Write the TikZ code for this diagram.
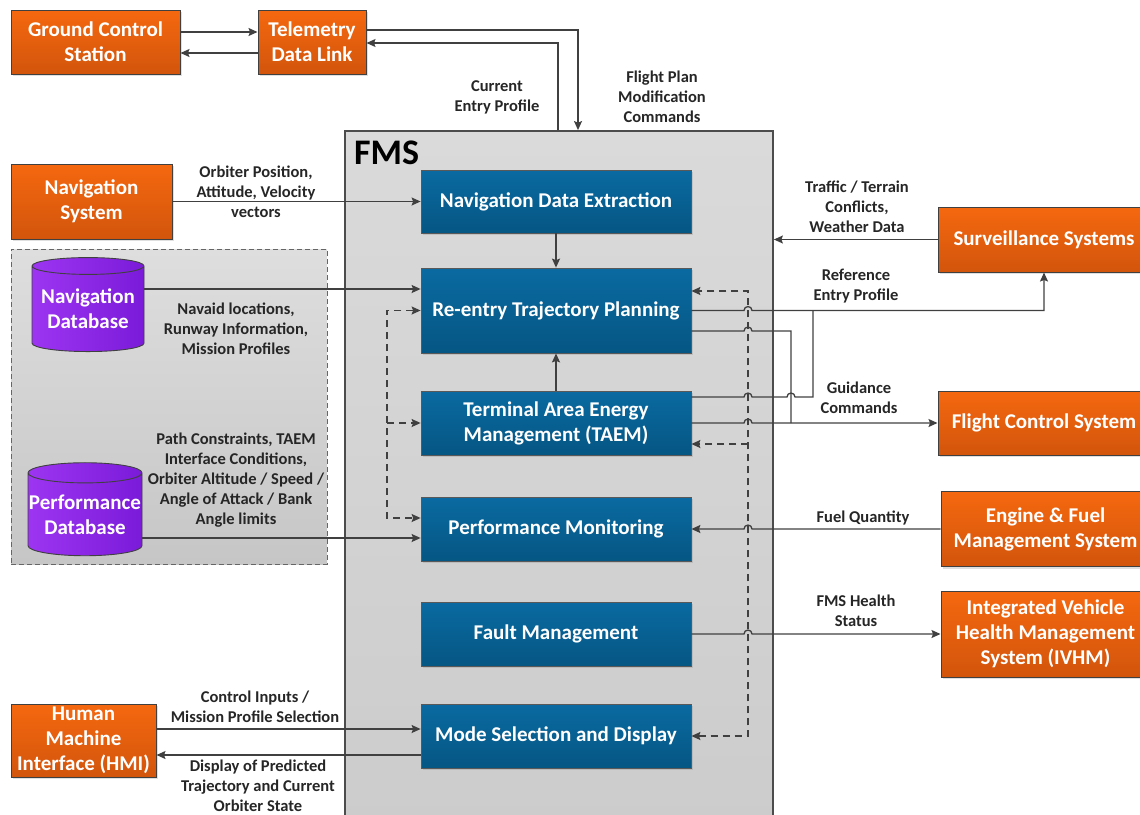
\documentclass[tikz,border=0pt]{standalone}
\usepackage{fontspec}
\setmainfont{Carlito}
\usetikzlibrary{shapes.geometric,arrows.meta,shadows}

\definecolor{orgtop}{RGB}{245,104,15}
\definecolor{orgbot}{RGB}{210,85,12}
\definecolor{blutop}{RGB}{10,106,161}
\definecolor{blubot}{RGB}{5,86,131}
\definecolor{purleft}{RGB}{157,53,242}
\definecolor{purright}{RGB}{122,27,217}
\definecolor{fmstop}{RGB}{218,218,218}
\definecolor{fmsbot}{RGB}{204,204,204}
\definecolor{dbtop}{RGB}{222,222,222}
\definecolor{dbbot}{RGB}{198,198,198}
\definecolor{wiregray}{RGB}{64,64,64}

\tikzstyle{sysbox} = [draw=black!75, line width=1pt, top color=orgtop, bottom color=orgbot, text=white, align=center, inner sep=0pt, font=\fontsize{21}{25}\selectfont\bfseries, drop shadow={shadow xshift=2pt,shadow yshift=-2pt,opacity=.25}]
\tikzstyle{fmsblock} = [draw=black!65, line width=0.8pt, top color=blutop, bottom color=blubot, text=white, align=center, inner sep=0pt, minimum width=270pt, font=\fontsize{21}{25}\selectfont\bfseries, drop shadow={shadow xshift=2pt,shadow yshift=-2pt,opacity=.25}]
\tikzstyle{fmsframe} = [draw=black!70, line width=1.8pt, top color=fmstop, bottom color=fmsbot]
\tikzstyle{dbgroup} = [draw=black!60, line width=0.9pt, dash pattern=on 5pt off 3pt, top color=dbtop, bottom color=dbbot]
\tikzstyle{dbcyl} = [cylinder, shape border rotate=90, aspect=0.18, draw=black!75, line width=0.9pt, left color=purleft, right color=purright, text=white, align=center, inner sep=0pt, font=\fontsize{21}{25}\selectfont\bfseries]
\tikzstyle{datalabel} = [font=\fontsize{16.5}{20}\selectfont\bfseries, align=center, inner sep=0pt, text=black!85]
\tikzstyle{wire} = [draw=wiregray, line width=1.3pt]
\tikzstyle{conn} = [wire, ->, >={Stealth[length=9pt,width=8pt,inset=1.5pt]}]
\tikzstyle{dconn} = [conn, dash pattern=on 7pt off 5pt]

\begin{document}
\begin{tikzpicture}[x=1pt,y=1pt,yscale=-1]
\useasboundingbox (0,0) rectangle (1140,814);

% FMS container
\node[fmsframe, minimum width=428pt, minimum height=700pt] (fms) at (559,481) {};
\node[anchor=west, inner sep=0pt, font=\fontsize{36}{36}\selectfont\bfseries] (fmstitle) at (354,153) {FMS};

% database group
\node[dbgroup, minimum width=316pt, minimum height=315pt] (dbgrp) at (169,406.5) {};
\node[dbcyl, minimum width=112pt, minimum height=94pt] (navdb) at (88,309) {Navigation\\Database};
\node[dbcyl, minimum width=114pt, minimum height=93pt] (perfdb) at (85,514.5) {Performance\\Database};

% external systems
\node[sysbox, minimum width=169pt, minimum height=64pt] (gcs) at (95.5,42) {Ground Control\\Station};
\node[sysbox, minimum width=108pt, minimum height=64pt] (tdl) at (312,42) {Telemetry\\Data Link};
\node[sysbox, minimum width=161pt, minimum height=75pt] (navsys) at (91.5,201.5) {Navigation\\System};
\node[sysbox, minimum width=212pt, minimum height=65pt] (ss) at (1044,239.5) {Surveillance Systems};
\node[sysbox, minimum width=212pt, minimum height=64pt] (fcs) at (1044,423) {Flight Control System};
\node[sysbox, minimum width=209pt, minimum height=75pt] (efms) at (1045.5,529) {Engine \& Fuel\\Management System};
\node[sysbox, minimum width=209pt, minimum height=86pt] (ivhm) at (1045.5,634) {Integrated Vehicle\\Health Management\\System (IVHM)};
\node[sysbox, minimum width=145pt, minimum height=73pt] (hmi) at (83.5,740.5) {Human\\Machine\\Interface (HMI)};

% FMS functions
\node[fmsblock, minimum height=63pt] (nde) at (556,201.5) {Navigation Data Extraction};
\node[fmsblock, minimum height=85pt] (rtp) at (556,310.5) {Re-entry Trajectory Planning};
\node[fmsblock, minimum height=64pt] (taem) at (556,423) {Terminal Area Energy\\Management (TAEM)};
\node[fmsblock, minimum height=64pt] (pm) at (556,529) {Performance Monitoring};
\node[fmsblock, minimum height=64pt] (fm) at (556,634) {Fault Management};
\node[fmsblock, minimum height=64pt] (msd) at (556,736) {Mode Selection and Display};

% bus and hop columns
\coordinate (lbus) at (387,0);
\coordinate (rbus) at (748,0);
\coordinate (hopA) at (744,0);
\coordinate (hopB) at (787,0);
\coordinate (vfcs) at (791,0);
\coordinate (vref) at (813,0);

% telemetry links
\draw[conn] (gcs.east |- 0,32) -- (tdl.west |- 0,32);
\draw[conn] (tdl.west |- 0,53) -- (gcs.east |- 0,53);
\draw[conn] (tdl.east |- 0,30) -| (578,0 |- fms.north);
\draw[conn] (558,0 |- fms.north) |- (tdl.east |- 0,43);

% inputs
\draw[conn] (navsys.east) -- (nde.west);
\draw[conn] (navdb.east |- 0,289) -- (rtp.west |- 0,289);
\draw[conn] (perfdb.east |- 0,538) -- (pm.west |- 0,538);
\draw[conn] (nde.south) -- (rtp.north);
\draw[conn] (taem.north) -- (rtp.south);
\draw[conn] (ss.west) -- (fms.east |- ss.west);
\draw[conn] (hmi.east |- 0,729) -- (msd.west |- 0,729);
\draw[conn] (msd.west |- 0,755) -- (hmi.east |- 0,755);

% feedback buses
\draw[dconn,<->] (rtp.west) -| (lbus |- 0,518) -- (pm.west |- 0,518);
\draw[dconn] (lbus |- taem.west) -- (taem.west);
\draw[dconn,<->] (msd.east) -| (rbus |- 0,291) -- (rtp.east |- 0,291);
\draw[dconn] (rbus |- 0,444) -- (taem.east |- 0,444);

% outputs (hops over the buses)
\draw[conn] (rtp.east) -- (hopA |- rtp.east) arc(180:360:4) -- (ss.south |- rtp.east) -- (ss.south);
\draw[wire] (rtp.east |- 0,331) -- (hopA |- 0,331) arc(180:360:4) -- (vfcs |- 0,331) -- (vfcs |- fcs.west);
\draw[wire] (taem.east |- 0,397) -- (hopA |- 0,397) arc(180:360:4) -- (hopB |- 0,397) arc(180:360:4) -- (vref |- 0,397) -- (vref |- rtp.east);
\draw[conn] (taem.east) -- (hopA |- taem.east) arc(180:360:4) -- (fcs.west);
\draw[conn,<-] (pm.east) -- (hopA |- pm.east) arc(180:360:4) -- (efms.west);
\draw[conn] (fm.east) -- (hopA |- fm.east) arc(180:360:4) -- (ivhm.west);

% Text Nodes
\node[datalabel] (lcep) at (497,97) {Current\\Entry Profile};
\node[datalabel] (lfpm) at (662,97) {Flight Plan\\Modification\\Commands};
\node[datalabel] (lopv) at (256,192) {Orbiter Position,\\Attitude, Velocity\\vectors};
\node[datalabel] (lttc) at (857,207) {Traffic / Terrain\\Conflicts,\\Weather Data};
\node[datalabel] (lrep) at (856,286) {Reference\\Entry Profile};
\node[datalabel] (lnav) at (236,329) {Navaid locations,\\Runway Information,\\Mission Profiles};
\node[datalabel] (lgc) at (859,398) {Guidance\\Commands};
\node[datalabel] (lpc) at (236,480) {Path Constraints, TAEM\\Interface Conditions,\\Orbiter Altitude / Speed /\\Angle of Attack / Bank\\Angle limits};
\node[datalabel] (lfq) at (863,518) {Fuel Quantity};
\node[datalabel] (lhs) at (856,611) {FMS Health\\Status};
\node[datalabel] (lci) at (255,707) {Control Inputs /\\Mission Profile Selection};
\node[datalabel] (ldp) at (258,786) {Display of Predicted\\Trajectory and Current\\Orbiter State};

\end{tikzpicture}
\end{document}
